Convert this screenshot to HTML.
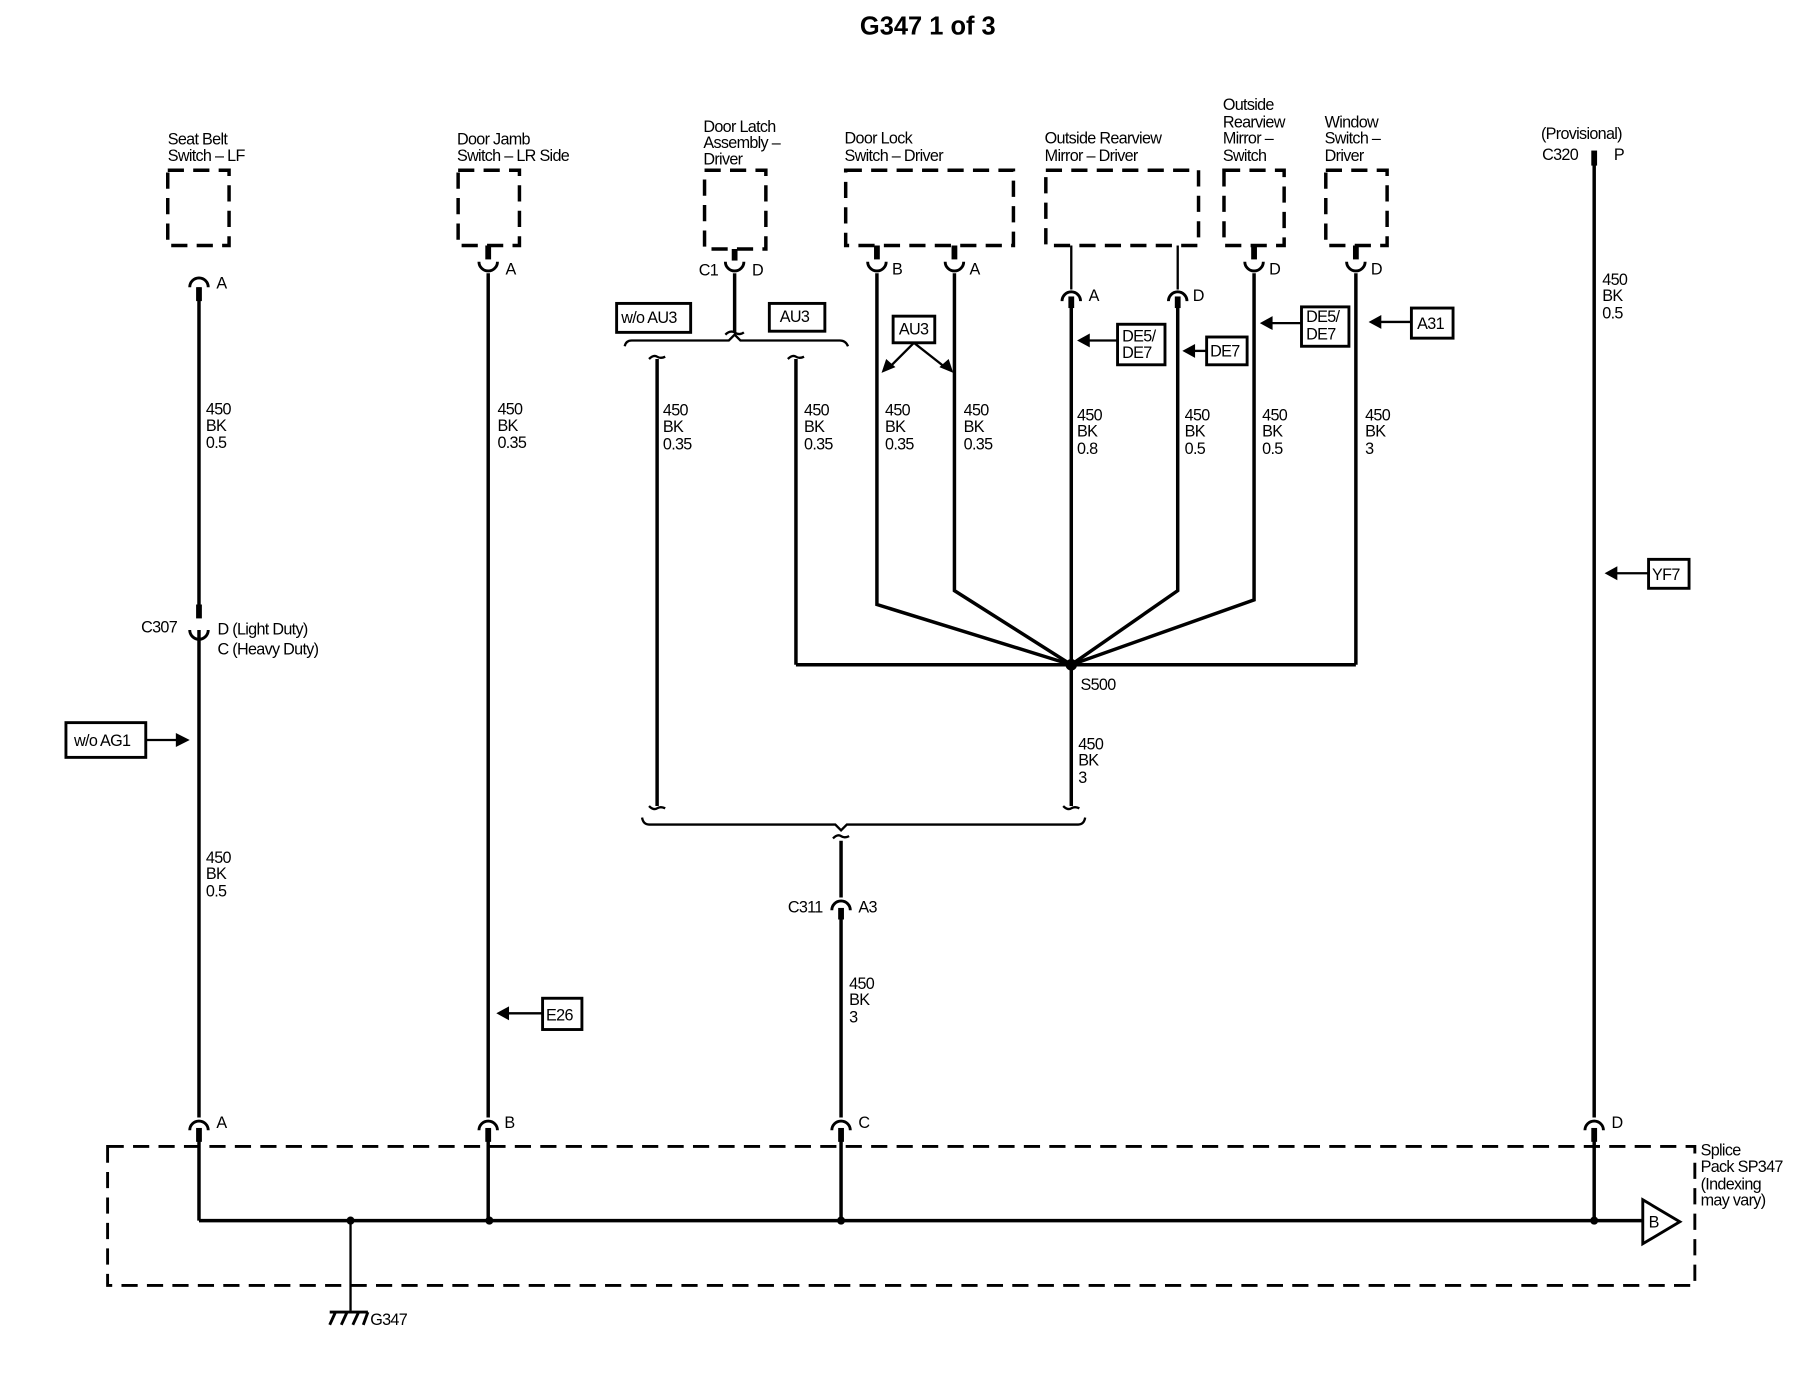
<!DOCTYPE html>
<html><head><meta charset="utf-8"><style>
html,body{margin:0;padding:0;background:#fff;}
svg{display:block}
text{font-family:"Liberation Sans",sans-serif;font-size:14px;letter-spacing:-0.6px;fill:#000}
</style></head><body>
<svg width="1814" height="1392" viewBox="0 0 1568 1202" preserveAspectRatio="none" xmlns="http://www.w3.org/2000/svg">
<g fill="none" stroke="#000">
<g stroke-width="3" stroke-dasharray="14,8">
<rect x="145" y="147" width="53" height="65"/>
<rect x="396" y="147" width="53" height="65"/>
<rect x="609" y="147" width="53" height="68"/>
<rect x="731" y="147" width="145" height="65"/>
<rect x="904" y="147" width="132" height="65"/>
<rect x="1058" y="147" width="52" height="65"/>
<rect x="1146" y="147" width="53" height="65"/>
</g>
<rect x="93" y="990" width="1372" height="120" stroke-width="2.5" stroke-dasharray="14,8"/>
<g stroke-width="3">
<line x1="172" y1="248" x2="172" y2="532"/>
<line x1="172" y1="544" x2="172" y2="965"/>
<line x1="172" y1="976" x2="172" y2="1054"/>
<line x1="422" y1="236" x2="422" y2="965"/>
<line x1="422" y1="976" x2="422" y2="1054"/>
<line x1="635" y1="236" x2="635" y2="287"/>
<line x1="568" y1="310" x2="568" y2="696"/>
<line x1="688" y1="310" x2="688" y2="574"/>
<polyline points="688,574 1172,574"/>
<polyline points="758,236 758,522 926,574"/>
<polyline points="825,236 825,510 926,574"/>
<line x1="926" y1="260" x2="926" y2="696"/>
<polyline points="1018,260 1018,510 926,574"/>
<polyline points="1084,236 1084,518 926,574"/>
<line x1="1172" y1="236" x2="1172" y2="574"/>
<line x1="727" y1="726" x2="727" y2="775"/>
<line x1="727" y1="786" x2="727" y2="965"/>
<line x1="727" y1="976" x2="727" y2="1054"/>
<line x1="1378" y1="132" x2="1378" y2="965"/>
<line x1="1378" y1="976" x2="1378" y2="1054"/>
<line x1="172" y1="1054" x2="1420" y2="1054"/>
</g>
<line x1="303" y1="1054" x2="303" y2="1132" stroke-width="2"/>
<g stroke-width="2">
<line x1="926" y1="212" x2="926" y2="250"/>
<line x1="1018" y1="212" x2="1018" y2="250"/>
</g>
<g stroke-width="5">
<line x1="422" y1="212" x2="422" y2="224"/>
<line x1="635" y1="215" x2="635" y2="225"/>
<line x1="758" y1="212" x2="758" y2="224"/>
<line x1="825" y1="212" x2="825" y2="224"/>
<line x1="1084" y1="212" x2="1084" y2="224"/>
<line x1="1172" y1="212" x2="1172" y2="224"/>
<line x1="172" y1="248" x2="172" y2="260"/>
<line x1="926" y1="256" x2="926" y2="266"/>
<line x1="1018" y1="256" x2="1018" y2="266"/>
<line x1="172" y1="522" x2="172" y2="534"/>
<line x1="172" y1="974" x2="172" y2="986"/>
<line x1="422" y1="974" x2="422" y2="986"/>
<line x1="727" y1="974" x2="727" y2="986"/>
<line x1="1378" y1="974" x2="1378" y2="986"/>
<line x1="727" y1="784" x2="727" y2="794"/>
<line x1="1378" y1="130" x2="1378" y2="143"/>
</g>
<g stroke-width="2.5">
<path d="M164 248 A8 8 0 0 1 180 248"/>
<path d="M164 544 A8 8 0 0 0 180 544"/>
<path d="M164 976 A8 8 0 0 1 180 976"/>
<path d="M414 226 A8 8 0 0 0 430 226"/>
<path d="M414 976 A8 8 0 0 1 430 976"/>
<path d="M627 226 A8 8 0 0 0 643 226"/>
<path d="M750 226 A8 8 0 0 0 766 226"/>
<path d="M817 226 A8 8 0 0 0 833 226"/>
<path d="M918 260 A8 8 0 0 1 934 260"/>
<path d="M1010 260 A8 8 0 0 1 1026 260"/>
<path d="M1076 226 A8 8 0 0 0 1092 226"/>
<path d="M1164 226 A8 8 0 0 0 1180 226"/>
<path d="M719 786 A8 8 0 0 1 735 786"/>
<path d="M719 976 A8 8 0 0 1 735 976"/>
<path d="M1370 976 A8 8 0 0 1 1386 976"/>
</g>
<g stroke-width="2">
<path d="M540 299 Q541 294 546 294 L630 294 L635 289 L640 294 L726 294 Q731 294 733 299"/>
<path d="M627 289 Q631 285 635 287 Q639 290 643 287"/>
<path d="M561 310 Q565 306 568 308 Q571 310 575 308"/>
<path d="M681 310 Q685 306 688 308 Q691 310 695 308"/>
<path d="M561 696 Q565 700 568 698 Q571 696 575 698"/>
<path d="M919 696 Q923 700 926 698 Q929 696 933 698"/>
<path d="M555 706 Q556 712 561 712 L722 712 L727 717 L732 712 L932 712 Q937 712 938 706"/>
<path d="M720 724 Q724 720 727 722 Q730 724 734 722"/>
</g>
<g stroke-width="2.5">
<rect x="533" y="262" width="64" height="25"/>
<rect x="665" y="262" width="48" height="24"/>
<rect x="772" y="273" width="36" height="23"/>
<rect x="966" y="280" width="41" height="35"/>
<rect x="1043" y="291" width="35" height="24"/>
<rect x="1125" y="265" width="41" height="34"/>
<rect x="1220" y="266" width="36" height="26"/>
<rect x="1425" y="483" width="35" height="25"/>
<rect x="469" y="862" width="34" height="27"/>
<rect x="57" y="624" width="69" height="30"/>
</g>
<g stroke-width="2">
<line x1="790" y1="296" x2="768" y2="318"/>
<line x1="790" y1="296" x2="818" y2="318"/>
<line x1="966" y1="294" x2="940" y2="294"/>
<line x1="1043" y1="303" x2="1030" y2="303"/>
<line x1="1125" y1="279" x2="1098" y2="279"/>
<line x1="1220" y1="278" x2="1192" y2="278"/>
<line x1="1425" y1="495" x2="1396" y2="495"/>
<line x1="469" y1="875" x2="438" y2="875"/>
<line x1="126" y1="639" x2="155" y2="639"/>
</g>
<path d="M1420 1036 L1452 1055 L1420 1074 Z" stroke-width="2.5" fill="#fff"/>
<g stroke-width="2.5">
<line x1="285" y1="1133" x2="318" y2="1133"/>
<line x1="290" y1="1133" x2="285" y2="1144"/>
<line x1="300" y1="1133" x2="295" y2="1144"/>
<line x1="310" y1="1133" x2="305" y2="1144"/>
<line x1="318" y1="1133" x2="314" y2="1144"/>
</g>
</g>
<g fill="#000">
<polygon points="762,322 766,310 774,317"/>
<polygon points="824,322 812,317 820,310"/>
<polygon points="931,294 942,288 942,300"/>
<polygon points="1022,303 1033,297 1033,309"/>
<polygon points="1089,279 1100,273 1100,285"/>
<polygon points="1183,278 1194,272 1194,284"/>
<polygon points="1387,495 1398,489 1398,501"/>
<polygon points="429,875 440,869 440,881"/>
<polygon points="164,639 152,633 152,645"/>
<circle cx="926" cy="574" r="5"/>
<circle cx="303" cy="1054" r="3.5"/>
<circle cx="423" cy="1054" r="3.5"/>
<circle cx="727" cy="1054" r="3.5"/>
<circle cx="1378" cy="1054" r="3.5"/>
</g>
<text x="802" y="30" text-anchor="middle" style="font-size:22px;font-weight:bold;letter-spacing:0">G347  1 of 3</text>
<g>
<text x="145" y="125">Seat Belt</text><text x="145" y="139">Switch – LF</text>
<text x="395" y="125">Door Jamb</text><text x="395" y="139">Switch – LR Side</text>
<text x="608" y="114">Door Latch</text><text x="608" y="128">Assembly –</text><text x="608" y="142">Driver</text>
<text x="730" y="124">Door Lock</text><text x="730" y="139">Switch – Driver</text>
<text x="903" y="124">Outside Rearview</text><text x="903" y="139">Mirror – Driver</text>
<text x="1057" y="95">Outside</text><text x="1057" y="110">Rearview</text><text x="1057" y="124">Mirror –</text><text x="1057" y="139">Switch</text>
<text x="1145" y="110">Window</text><text x="1145" y="124">Switch –</text><text x="1145" y="139">Driver</text>
<text x="1332" y="120">(Provisional)</text><text x="1333" y="138">C320</text><text x="1395" y="138">P</text>
<text x="187" y="249">A</text><text x="437" y="237">A</text>
<text x="604" y="238">C1</text><text x="650" y="238">D</text>
<text x="771" y="237">B</text><text x="838" y="237">A</text>
<text x="941" y="260">A</text><text x="1031" y="260">D</text>
<text x="1097" y="237">D</text><text x="1185" y="237">D</text>
<text x="537" y="279">w/o AU3</text><text x="674" y="278">AU3</text>
<text x="777" y="289">AU3</text>
<text x="970" y="295">DE5/</text><text x="970" y="309">DE7</text>
<text x="1046" y="308">DE7</text>
<text x="1129" y="278">DE5/</text><text x="1129" y="293">DE7</text>
<text x="1225" y="284">A31</text>
<text x="1428" y="501">YF7</text>
<text x="472" y="881">E26</text>
<text x="64" y="644">w/o AG1</text>
<text x="178" y="358">450</text><text x="178" y="372">BK</text><text x="178" y="387">0.5</text>
<text x="178" y="745">450</text><text x="178" y="759">BK</text><text x="178" y="774">0.5</text>
<text x="430" y="358">450</text><text x="430" y="372">BK</text><text x="430" y="387">0.35</text>
<text x="573" y="359">450</text><text x="573" y="373">BK</text><text x="573" y="388">0.35</text>
<text x="695" y="359">450</text><text x="695" y="373">BK</text><text x="695" y="388">0.35</text>
<text x="765" y="359">450</text><text x="765" y="373">BK</text><text x="765" y="388">0.35</text>
<text x="833" y="359">450</text><text x="833" y="373">BK</text><text x="833" y="388">0.35</text>
<text x="931" y="363">450</text><text x="931" y="377">BK</text><text x="931" y="392">0.8</text>
<text x="1024" y="363">450</text><text x="1024" y="377">BK</text><text x="1024" y="392">0.5</text>
<text x="1091" y="363">450</text><text x="1091" y="377">BK</text><text x="1091" y="392">0.5</text>
<text x="1180" y="363">450</text><text x="1180" y="377">BK</text><text x="1180" y="392">3</text>
<text x="1385" y="246">450</text><text x="1385" y="260">BK</text><text x="1385" y="275">0.5</text>
<text x="932" y="647">450</text><text x="932" y="661">BK</text><text x="932" y="676">3</text>
<text x="734" y="854">450</text><text x="734" y="868">BK</text><text x="734" y="883">3</text>
<text x="934" y="596">S500</text>
<text x="122" y="546">C307</text><text x="188" y="548">D (Light Duty)</text><text x="188" y="565">C (Heavy Duty)</text>
<text x="681" y="788">C311</text><text x="742" y="788">A3</text>
<text x="187" y="974">A</text><text x="436" y="974">B</text><text x="742" y="974">C</text><text x="1393" y="974">D</text>
<text x="1470" y="998">Splice</text><text x="1470" y="1012">Pack SP347</text><text x="1470" y="1027">(Indexing</text><text x="1470" y="1041">may vary)</text>
<text x="1425" y="1060">B</text>
<text x="320" y="1144">G347</text>
</g>
</svg>
</body></html>
